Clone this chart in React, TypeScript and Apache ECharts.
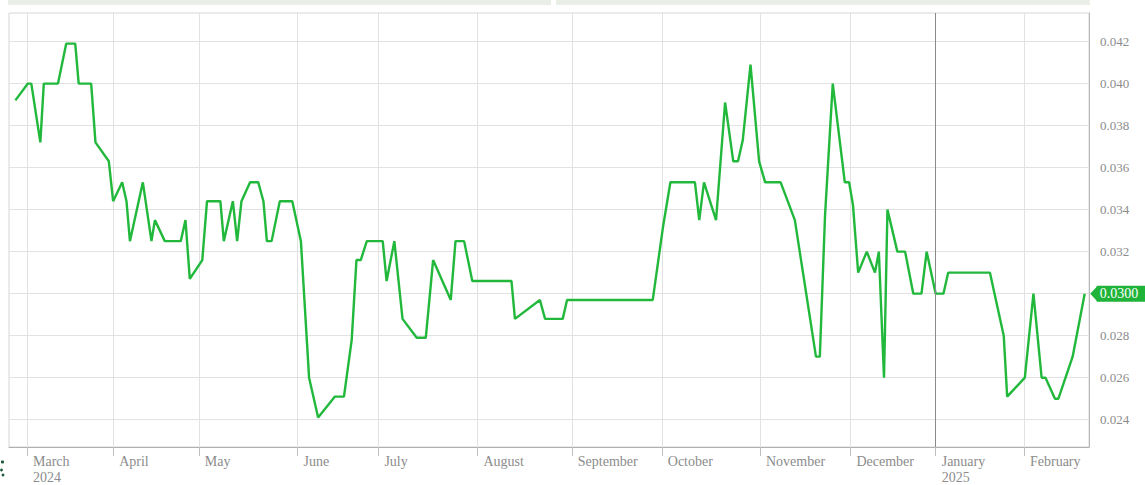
import React, { useEffect, useRef } from 'react';
import * as echarts from 'echarts';

// x = trading-session index counted from 1 March 2024
const sessionIdx = [
  -2.7, 0.2, 1.0, 3.1, 3.9, 7.2, 9.1, 11.2, 12.0, 14.9, 15.9, 19.0, 20.0, 22.1, 23.1, 23.9,
  26.9, 28.9, 29.7, 32.0, 35.7, 36.8, 37.8, 40.7, 41.8, 44.9, 45.7, 47.8, 48.8, 49.8, 51.8,
  53.7, 54.9, 55.7, 56.8, 58.7, 61.6, 63.6, 65.5, 67.6, 71.5, 73.6, 75.4, 76.5, 77.5, 78.9,
  82.6, 83.5, 85.3, 87.2, 90.5, 92.6, 94.3, 98.4, 99.5, 101.5, 103.4, 112.5, 113.3, 119.1,
  120.3, 124.4, 125.4, 145.3, 147.7, 149.4, 155.1, 156.1, 157.2, 160.0, 162.1, 164.0, 165.1,
  166.2, 168.0, 170.0, 171.4, 175.0, 178.3, 183.2, 184.1, 185.3, 187.1, 189.9, 190.9, 191.8,
  193.0, 195.0, 196.9, 197.8, 199.0, 199.8, 202.1, 203.9, 205.8, 207.7, 208.9, 211.0, 212.8,
  213.9, 223.6, 226.8, 227.6, 231.7, 233.7, 235.6, 236.5, 238.7, 239.5, 242.8, 245.6,
];

const yieldValues = [
  0.0392, 0.04, 0.04, 0.0372, 0.04, 0.04, 0.0419, 0.0419, 0.04, 0.04, 0.0372, 0.0363, 0.0344,
  0.0353, 0.0344, 0.0325, 0.0353, 0.0325, 0.0335, 0.0325, 0.0325, 0.0335, 0.0307, 0.0316,
  0.0344, 0.0344, 0.0325, 0.0344, 0.0325, 0.0344, 0.0353, 0.0353, 0.0344, 0.0325, 0.0325,
  0.0344, 0.0344, 0.0325, 0.026, 0.0241, 0.0251, 0.0251, 0.0278, 0.0316, 0.0316, 0.0325,
  0.0325, 0.0306, 0.0325, 0.0288, 0.0279, 0.0279, 0.0316, 0.0297, 0.0325, 0.0325, 0.0306,
  0.0306, 0.0288, 0.0297, 0.0288, 0.0288, 0.0297, 0.0297, 0.0332, 0.0353, 0.0353, 0.0335,
  0.0353, 0.0335, 0.0391, 0.0363, 0.0363, 0.0373, 0.0409, 0.0363, 0.0353, 0.0353, 0.0335,
  0.027, 0.027, 0.0337, 0.04, 0.0353, 0.0353, 0.0342, 0.031, 0.032, 0.031, 0.032, 0.026,
  0.034, 0.032, 0.032, 0.03, 0.03, 0.032, 0.03, 0.03, 0.031, 0.031, 0.028, 0.0251, 0.026,
  0.03, 0.026, 0.026, 0.025, 0.025, 0.027, 0.03,
];

const monthTickIdx = [0, 20, 39.9, 62.8, 81.6, 104.6, 126.5, 147.4, 170.2, 191.2, 211.0, 231.5];
const monthLabels = [
  'March\n2024', 'April', 'May', 'June', 'July', 'August', 'September', 'October',
  'November', 'December', 'January\n2025', 'February',
];
const yearBoundaryIdx = 211.0;
const yTicks = [0.024, 0.026, 0.028, 0.03, 0.032, 0.034, 0.036, 0.038, 0.04, 0.042];
// the 0.030 label sits under the last-value tag in the reference
const yLabelTicks = [0.024, 0.026, 0.028, 0.032, 0.034, 0.036, 0.038, 0.04, 0.042];

const SERIF = '"Liberation Serif", "Times New Roman", serif';

export default function App() {
  const ref = useRef<HTMLDivElement>(null);

  useEffect(() => {
    document.body.style.margin = '0';
    if (!ref.current) return;
    const chart = echarts.init(ref.current, undefined, { renderer: 'svg' });
    const lastIdx = sessionIdx.length - 1;
    const data = sessionIdx.map((t, i) => [t, yieldValues[i]]);

    chart.setOption({
      animation: false,
      backgroundColor: '#ffffff',
      grid: {
        left: 9,
        top: 13,
        right: 56,
        bottom: 37,
        show: true,
        borderColor: '#d6d6d6',
        borderWidth: 1,
      },
      graphic: [
        { type: 'rect', shape: { x: 8, y: 0, width: 543, height: 5 }, style: { fill: '#e9efe7' } },
        { type: 'rect', shape: { x: 556, y: 0, width: 534, height: 5 }, style: { fill: '#e9efe7' } },
        { type: 'circle', shape: { cx: 2.5, cy: 462, r: 1.6 }, style: { fill: '#1d5a3c' } },
        { type: 'circle', shape: { cx: 1.5, cy: 470, r: 1.4 }, style: { fill: '#1d5a3c' } },
        { type: 'circle', shape: { cx: 3, cy: 475, r: 1.4 }, style: { fill: '#1d5a3c' } },
      ],
      xAxis: {
        type: 'value',
        min: -4.18,
        max: 246.6,
        axisLine: { show: true, onZero: false, lineStyle: { color: '#b0b0b0', width: 1 } },
        axisTick: {
          show: true,
          customValues: monthTickIdx,
          length: 9,
          lineStyle: { color: '#c0c0c0' },
        },
        axisLabel: {
          customValues: monthTickIdx,
          formatter: (v: number) => {
            const i = monthTickIdx.findIndex((m) => Math.abs(m - v) < 0.01);
            return i >= 0 ? monthLabels[i] : '';
          },
          align: 'left',
          padding: [0, 0, 0, 6],
          margin: 6,
          color: '#8c8c8c',
          fontFamily: SERIF,
          fontSize: 14,
          lineHeight: 16,
        },
        splitLine: { show: true, lineStyle: { color: '#e2e2e2', width: 1 } },
      },
      yAxis: {
        type: 'value',
        position: 'right',
        min: 0.0227,
        max: 0.04336,
        axisLine: { show: true, onZero: false, lineStyle: { color: '#b8b8b8' } },
        axisTick: { show: false, customValues: yTicks },
        axisLabel: {
          customValues: yLabelTicks,
          formatter: (v: number) => v.toFixed(3),
          margin: 11,
          color: '#8c8c8c',
          fontFamily: SERIF,
          fontSize: 13,
        },
        splitLine: { show: true, lineStyle: { color: '#e2e2e2', width: 1 } },
      },
      series: [
        {
          type: 'line',
          data,
          showSymbol: false,
          clip: false,
          lineStyle: { color: '#21b83c', width: 2.4 },
          itemStyle: { color: '#21b83c' },
          endLabel: {
            show: true,
            formatter: (p: any) => Number(p.value[1]).toFixed(4),
            distance: 12,
            backgroundColor: '#1fb33a',
            color: '#ffffff',
            fontFamily: SERIF,
            fontSize: 14,
            padding: [1, 10, 0, 3],
            lineHeight: 15,
          },
          markPoint: {
            silent: true,
            symbol: 'triangle',
            symbolSize: [15, 7],
            symbolRotate: 90,
            symbolOffset: [9, 0],
            itemStyle: { color: '#1fb33a' },
            label: { show: false },
            data: [{ coord: data[lastIdx] }],
          },
          markLine: {
            silent: true,
            symbol: 'none',
            label: { show: false },
            lineStyle: { color: '#8a8a8a', type: 'solid', width: 1 },
            data: [{ xAxis: yearBoundaryIdx }],
          },
        },
      ],
    });
    return () => chart.dispose();
  }, []);

  return <div ref={ref} style={{ width: 1145, height: 485 }} />;
}
